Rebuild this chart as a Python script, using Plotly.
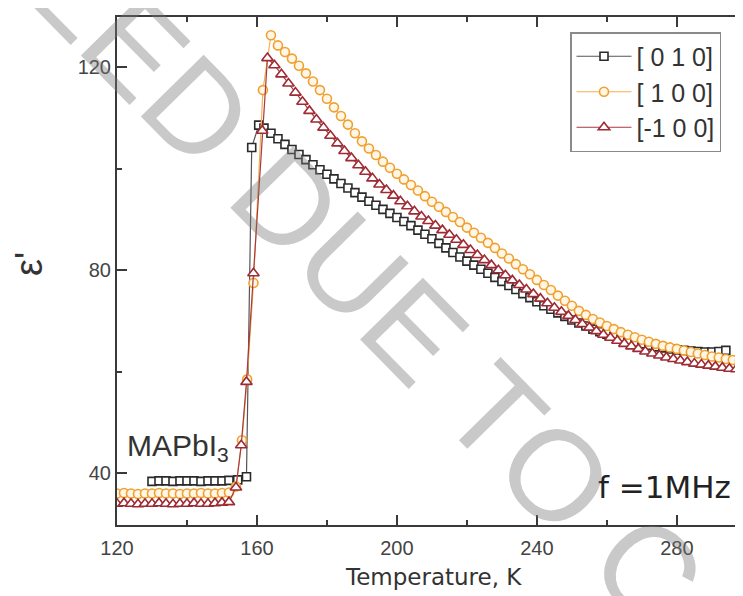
import plotly.graph_objects as go

# ---------------- data ----------------
temp_010 = [130, 132, 134, 136, 138, 140, 142, 144, 146, 148, 150, 152, 154.5, 157, 158.5, 160.5, 162,
            164, 166, 168, 170, 172, 174, 176, 178, 180, 182, 184, 186, 188, 190, 192, 194, 196, 198,
            200, 202, 204, 206, 208, 210, 212, 214, 216, 218, 220, 222, 224, 226, 228, 230, 232, 234,
            236, 238, 240, 242, 244, 246, 248, 250, 252, 254, 256, 258, 260, 262, 264, 266, 268, 270,
            272, 274, 276, 278, 280, 282, 284, 286, 288, 290, 292, 294]
eps_010 = [38.4, 38.5, 38.5, 38.4, 38.5, 38.5, 38.5, 38.4, 38.5, 38.5, 38.5, 38.6, 38.7, 39.3, 104.2, 108.6, 108.0,
           107.0, 105.9, 104.8, 103.8, 102.8, 101.8, 100.8, 99.8, 98.9, 98.0, 97.1, 96.2, 95.3, 94.4, 93.6, 92.8, 92.0, 91.2,
           90.4, 89.6, 88.8, 87.9, 87.1, 86.2, 85.3, 84.4, 83.5, 82.6, 81.8, 81.0, 80.2, 79.4, 78.6, 77.8, 77.0, 76.2,
           75.4, 74.6, 73.8, 73.0, 72.3, 71.6, 70.9, 70.2, 69.6, 69.0, 68.4, 67.9, 67.4, 67.0, 66.6, 66.2, 65.8, 65.5,
           65.2, 64.9, 64.7, 64.5, 64.3, 64.2, 64.1, 64.0, 63.9, 63.9, 64.0, 64.2]

temp_100 = [120, 122, 124, 126, 128, 130, 132, 134, 136, 138, 140, 142, 144, 146, 148, 150, 152,
            154, 155.7, 157.2, 159, 161.7,
            164, 166, 168, 170, 172, 174, 176, 178, 180, 182, 184, 186, 188, 190, 192, 194, 196, 198,
            200, 202, 204, 206, 208, 210, 212, 214, 216, 218, 220, 222, 224, 226, 228, 230, 232, 234,
            236, 238, 240, 242, 244, 246, 248, 250, 252, 254, 256, 258, 260, 262, 264, 266, 268, 270,
            272, 274, 276, 278, 280, 282, 284, 286, 288, 290, 292, 294, 296, 298]
eps_100 = [36.0, 36.1, 36.0, 35.9, 36.0, 36.0, 36.1, 36.0, 36.0, 35.9, 36.0, 36.0, 36.1, 36.0, 36.0, 36.1, 36.2,
           37.4, 46.5, 58.5, 77.5, 115.5,
           126.3, 124.3, 123.0, 121.7, 120.3, 118.8, 117.2, 115.5, 113.8, 112.1, 110.4, 108.7, 107.0, 105.4, 104.0, 102.7, 101.4, 100.2,
           99.0, 97.9, 96.8, 95.7, 94.6, 93.5, 92.5, 91.5, 90.5, 89.5, 88.4, 87.4, 86.4, 85.4, 84.4, 83.3, 82.3, 81.2,
           80.2, 79.2, 78.1, 77.1, 76.1, 75.0, 74.0, 73.0, 72.0, 71.2, 70.4, 69.7, 69.0, 68.4, 67.8, 67.3, 66.8, 66.3,
           65.9, 65.5, 65.1, 64.8, 64.5, 64.2, 63.9, 63.6, 63.3, 63.0, 62.8, 62.5, 62.3, 62.1]

temp_m100 = [120, 122, 124, 126, 128, 130, 132, 134, 136, 138, 140, 142, 144, 146, 148, 150, 152,
             154, 155.5, 157, 159, 161.5,
             163, 165, 167, 169, 171, 173, 175, 177, 179, 181, 183, 185, 187, 189, 191, 193, 195, 197,
             199, 201, 203, 205, 207, 209, 211, 213, 215, 217, 219, 221, 223, 225, 227, 229, 231, 233,
             235, 237, 239, 241, 243, 245, 247, 249, 251, 253, 255, 257, 259, 261, 263, 265, 267, 269,
             271, 273, 275, 277, 279, 281, 283, 285, 287, 289, 291, 293, 295, 297, 299]
eps_m100 = [34.0, 34.1, 34.0, 33.9, 34.0, 34.0, 34.1, 34.0, 33.9, 34.0, 34.0, 34.1, 34.0, 34.0, 34.1, 34.2, 34.3,
            37.2, 45.5, 58.0, 79.4, 107.5,
            121.8, 120.4, 118.6, 116.8, 115.0, 113.2, 111.4, 109.7, 108.1, 106.5, 105.0, 103.5, 102.1, 100.7, 99.4, 98.1, 96.9, 95.8,
            94.7, 93.6, 92.6, 91.6, 90.6, 89.7, 88.8, 87.9, 87.0, 86.0, 85.0, 84.0, 83.0, 82.0, 81.0, 80.0, 79.0, 78.0,
            77.1, 76.2, 75.3, 74.4, 73.5, 72.6, 71.8, 71.0, 70.2, 69.4, 68.7, 68.0, 67.3, 66.7, 66.1, 65.5, 65.0, 64.5,
            64.0, 63.6, 63.2, 62.8, 62.5, 62.2, 61.9, 61.6, 61.4, 61.2, 61.0, 60.8, 60.6, 60.5, 60.4]

series_names = ["[ 0 1 0]", "[ 1 0 0]", "[-1 0 0]"]
x_tickvals = [120, 160, 200, 240, 280]
x_ticktext = ["120", "160", "200", "240", "280"]
x_minor = [140, 180, 220, 260]
y_tickvals = [40, 80, 120]
y_ticktext = ["40", "80", "120"]
y_minor = [60, 100]
x_range = [120, 298.9]
y_range = [29.8, 129.9]

FONT = "Liberation Sans, Arial, sans-serif"
WIDE = "DejaVu Sans, Verdana, sans-serif"
AX = "#3a3a3a"

# the page body adds an 8px offset; plot area lands at screen x 117..743, y 17..525
PX0, PX1, PY0, PY1 = 117, 743, 17, 525


def px(xs):
    return (xs - PX0) / (PX1 - PX0)


def py(ys):
    return (PY1 - ys) / (PY1 - PY0)


fig = go.Figure()
fig.add_trace(go.Scatter(
    x=temp_010, y=eps_010, name=series_names[0], mode="lines+markers",
    line=dict(color="#555555", width=1.2),
    marker=dict(symbol="square", size=8, color="white", line=dict(color="#2a2a2a", width=1.6)),
))
fig.add_trace(go.Scatter(
    x=temp_100, y=eps_100, name=series_names[1], mode="lines+markers",
    line=dict(color="#f4b04e", width=1.2),
    marker=dict(symbol="circle", size=9, color="#fff6e6", line=dict(color="#f0a030", width=1.6)),
))
fig.add_trace(go.Scatter(
    x=temp_m100, y=eps_m100, name=series_names[2], mode="lines+markers",
    line=dict(color="#a83a40", width=1.2),
    marker=dict(symbol="triangle-up", size=10, color="white", line=dict(color="#9e2a33", width=1.6)),
))
# helper trace so the right-hand tick axis is drawn
fig.add_trace(go.Scatter(x=[None], y=[None], yaxis="y2", showlegend=False, hoverinfo="skip"))

fig.update_layout(
    width=735, height=588,
    margin=dict(l=109, r=0, t=9, b=71, autoexpand=False),
    paper_bgcolor="white", plot_bgcolor="white",
    font=dict(family=FONT, color="#333333"),
    showlegend=True,
    legend=dict(
        x=px(570), y=py(32), xanchor="left", yanchor="top",
        bordercolor="#8a8a8a", borderwidth=1.5, bgcolor="white",
        font=dict(family=FONT, size=25, color="#333333"),
        tracegroupgap=0, itemwidth=55,
    ),
    xaxis=dict(
        range=x_range, tickmode="array", tickvals=x_tickvals, ticktext=x_ticktext,
        ticks="inside", ticklen=10, tickwidth=1.5, tickcolor=AX,
        minor=dict(tickvals=x_minor, ticks="inside", ticklen=5, tickwidth=1.5, tickcolor=AX),
        showline=True, linecolor=AX, linewidth=2, mirror="ticks",
        showgrid=False, zeroline=False, ticklabelstandoff=4,
        tickfont=dict(family=FONT, size=20, color="#444444"),
    ),
    yaxis=dict(
        range=y_range, tickmode="array", tickvals=y_tickvals, ticktext=y_ticktext,
        ticks="inside", ticklen=10, tickwidth=1.5, tickcolor=AX,
        minor=dict(tickvals=y_minor, ticks="inside", ticklen=5, tickwidth=1.5, tickcolor=AX),
        showline=True, linecolor=AX, linewidth=2, mirror=False,
        showgrid=False, zeroline=False,
        tickfont=dict(family=FONT, size=20, color="#444444"),
    ),
    yaxis2=dict(
        overlaying="y", side="right", anchor="x", range=y_range,
        tickmode="array", tickvals=y_tickvals, showticklabels=False,
        ticks="inside", ticklen=5, tickwidth=1.5, tickcolor=AX,
        minor=dict(tickvals=y_minor, ticks="inside", ticklen=2, tickwidth=1.5, tickcolor=AX),
        showline=False, showgrid=False, zeroline=False,
    ),
)

annotations = [
    dict(text="Temperature, K", x=px(433), y=py(577), xref="paper", yref="paper",
         showarrow=False, xanchor="center", yanchor="middle",
         font=dict(family=WIDE, size=23, color="#333333")),
    dict(text="ε'", x=px(29), y=py(264), xref="paper", yref="paper",
         showarrow=False, xanchor="center", yanchor="middle", textangle=-90,
         font=dict(family=FONT, size=38, color="#333333")),
    dict(text="MAPbI<sub>3</sub>", x=px(125), y=py(447), xref="paper", yref="paper",
         showarrow=False, xanchor="left", yanchor="middle",
         font=dict(family=FONT, size=30, color="#333333")),
    dict(text="f =1MHz", x=px(596), y=py(487), xref="paper", yref="paper",
         showarrow=False, xanchor="left", yanchor="middle",
         font=dict(family=WIDE, size=31, color="#222222")),
    # diagonal watermark
    dict(text="LLED DUE TO C", x=px(343), y=py(258), xref="paper", yref="paper",
         showarrow=False, xanchor="center", yanchor="middle", textangle=45.5,
         font=dict(family=FONT, size=128, color="rgba(120,120,120,0.4)")),
]
fig.update_layout(annotations=annotations)

fig.write_html("out.html")
